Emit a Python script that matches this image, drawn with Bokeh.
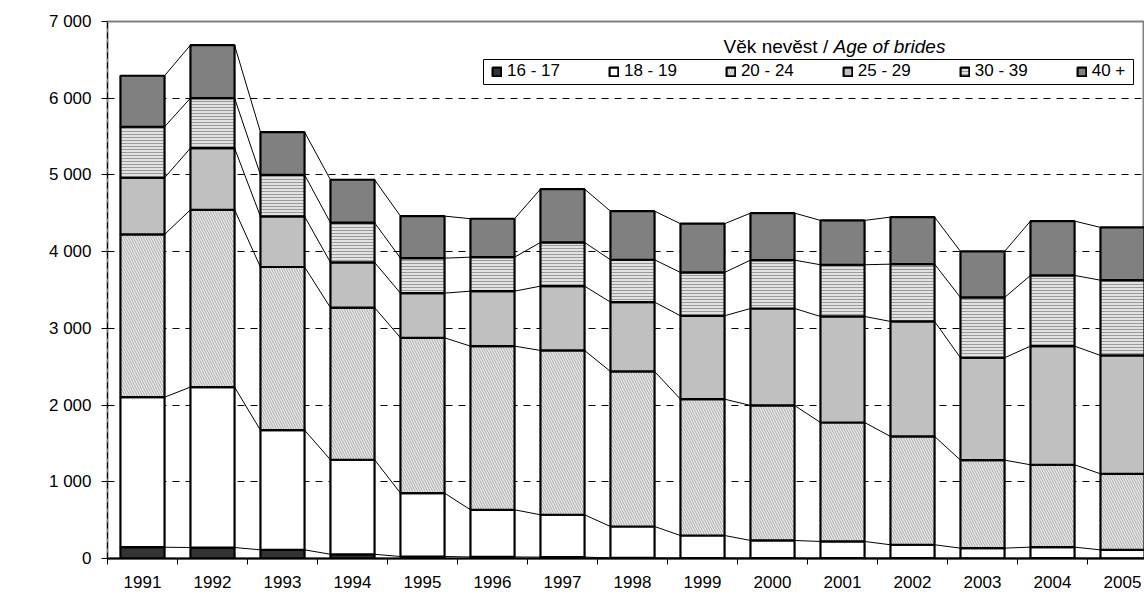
import numpy as np
from bokeh.plotting import figure
from bokeh.models import FixedTicker, Legend, LegendItem, Label, Range1d, BoxAnnotation
from bokeh.embed import file_html
from bokeh.resources import INLINE

# ---- data ----
years = ["1991", "1992", "1993", "1994", "1995", "1996", "1997", "1998",
         "1999", "2000", "2001", "2002", "2003", "2004", "2005"]
age_groups = ["16 - 17", "18 - 19", "20 - 24", "25 - 29", "30 - 39", "40 +"]
age_16_17 = [147, 143, 113, 55, 26, 20, 18, 8, 6, 5, 5, 4, 3, 4, 3]
age_18_19 = [1956, 2091, 1560, 1232, 826, 615, 552, 409, 294, 230, 217, 175, 132, 144, 110]
age_20_24 = [2121, 2312, 2127, 1983, 2025, 2133, 2142, 2021, 1777, 1760, 1551, 1412, 1147, 1074, 991]
age_25_29 = [739, 803, 659, 590, 582, 717, 838, 904, 1087, 1264, 1382, 1499, 1335, 1546, 1543]
age_30_39 = [665, 652, 543, 517, 456, 443, 570, 552, 565, 630, 674, 747, 786, 922, 981]
age_40_plus = [665, 691, 556, 560, 548, 501, 695, 634, 635, 613, 578, 613, 600, 708, 688]
y_ticks = [0, 1000, 2000, 3000, 4000, 5000, 6000, 7000]
y_tick_labels = ["0", "1 000", "2 000", "3 000", "4 000", "5 000", "6 000", "7 000"]

series = [age_16_17, age_18_19, age_20_24, age_25_29, age_30_39, age_40_plus]

FONT = "Liberation Sans"
FS = "17px"
BAR_W = 0.63
PX_PER_UNIT_Y = 537 / 7000.0   # layout helper for annotation placement
PX_PER_UNIT_X = 70.0

p = figure(width=1144, height=593, output_backend="svg", toolbar_location=None,
           x_range=Range1d(-0.5, 14.314), y_range=Range1d(0, 7000),
           min_border_left=107, min_border_right=0, min_border_top=21, min_border_bottom=35)
p.background_fill_color = "white"
p.border_fill_color = "white"
p.outline_line_color = "#808080"
p.outline_line_width = 2

x = np.arange(len(years), dtype=float)
cum = np.cumsum(np.array(series, dtype=float), axis=0)
bottoms = np.vstack([np.zeros(len(years)), cum[:-1]])

# connector (series) lines between stacked tops
for k in range(len(series)):
    p.segment(x0=x[:-1] + BAR_W / 2, y0=cum[k][:-1], x1=x[1:] - BAR_W / 2, y1=cum[k][1:],
              line_color="black", line_width=1)

styles = [
    dict(fill_color="#333333"),
    dict(fill_color="white"),
    dict(fill_color="#ececec", hatch_pattern="\\", hatch_color="#a6a6a6", hatch_scale=5, hatch_weight=1),
    dict(fill_color="#c0c0c0"),
    dict(fill_color="#e2e2e2", hatch_pattern="-", hatch_color="#999999", hatch_scale=3, hatch_weight=1),
    dict(fill_color="#808080"),
]
renderers = []
for k in range(len(series)):
    r = p.vbar(x=x, width=BAR_W, bottom=bottoms[k], top=cum[k],
               line_color="black", line_width=2.2, **styles[k])
    renderers.append(r)

# axes
p.xaxis.ticker = FixedTicker(ticks=list(range(len(years))),
                             minor_ticks=[i - 0.5 for i in range(len(years) + 1)])
p.xaxis.major_label_overrides = {i: y for i, y in enumerate(years)}
p.xaxis.major_tick_out = 0
p.xaxis.major_tick_in = 0
p.xaxis.minor_tick_out = 6
p.xaxis.minor_tick_in = 0
p.xaxis.minor_tick_line_color = "black"
p.xaxis.axis_line_color = "black"
p.xaxis.axis_line_width = 2
p.xaxis.major_label_standoff = 11
p.xaxis.major_label_text_font = FONT
p.xaxis.major_label_text_font_size = FS
p.xaxis.major_label_text_color = "black"

p.yaxis.ticker = FixedTicker(ticks=y_ticks, minor_ticks=[])
p.yaxis.major_label_overrides = {t: l for t, l in zip(y_ticks, y_tick_labels)}
p.yaxis.major_tick_out = 6
p.yaxis.major_tick_in = 0
p.yaxis.axis_line_color = "black"
p.yaxis.axis_line_dash = "6 4"
p.yaxis.axis_line_width = 1
p.yaxis.major_label_standoff = 10
p.yaxis.major_label_text_font = FONT
p.yaxis.major_label_text_font_size = FS
p.yaxis.major_label_text_color = "black"

p.xgrid.visible = False
p.ygrid.grid_line_color = "black"
p.ygrid.grid_line_dash = "7 6"
p.ygrid.grid_line_width = 1

# y-axis title (mixed upright / italic)
p.add_layout(Label(x=-1.43, y=2150, text="Sňatky / ", angle=np.pi / 2,
                   text_align="left", text_baseline="middle",
                   text_font=FONT, text_font_size=FS, text_color="black"))
p.add_layout(Label(x=-1.43, y=2150 + 66 / PX_PER_UNIT_Y, text="Marriages", angle=np.pi / 2,
                   text_align="left", text_baseline="middle", text_font_style="italic",
                   text_font=FONT, text_font_size=FS, text_color="black"))

# legend title (mixed upright / italic), centred near x=834px, y=46px
TITLE_PX = 19
title_start_px = 834 - 11.673 * TITLE_PX / 2
title_x = -0.5 + (title_start_px - 107) / PX_PER_UNIT_X
title_y = (558 - 46) / PX_PER_UNIT_Y
p.add_layout(Label(x=title_x, y=title_y, text="Věk nevěst / ", text_align="left",
                   text_baseline="middle", text_font=FONT, text_font_size=f"{TITLE_PX}px",
                   text_color="black"))
p.add_layout(Label(x=title_x + 5.781 * TITLE_PX / PX_PER_UNIT_X, y=title_y, text="Age of brides",
                   text_align="left", text_baseline="middle", text_font_style="italic",
                   text_font=FONT, text_font_size=f"{TITLE_PX}px", text_color="black"))

# legend frame (pixel box 483..1133 x 59..84)
p.add_layout(BoxAnnotation(left=-0.5 + (483 - 107) / PX_PER_UNIT_X,
                           right=-0.5 + (1133 - 107) / PX_PER_UNIT_X,
                           bottom=(558 - 84) / PX_PER_UNIT_Y, top=(558 - 59) / PX_PER_UNIT_Y,
                           fill_color="white", fill_alpha=1,
                           line_color="black", line_width=1, line_alpha=1))

legend = Legend(items=[LegendItem(label=g, renderers=[r]) for g, r in zip(age_groups, renderers)],
                orientation="horizontal", location=(384, 477))
legend.border_line_alpha = 0
legend.background_fill_alpha = 0
legend.padding = 0
legend.margin = 0
legend.spacing = 48
legend.glyph_width = 11
legend.glyph_height = 11
legend.label_standoff = 5
legend.label_height = 20
legend.label_text_font = FONT
legend.label_text_font_size = FS
legend.label_text_color = "black"
p.add_layout(legend)

open("out.html", "w").write(file_html(p, INLINE))
